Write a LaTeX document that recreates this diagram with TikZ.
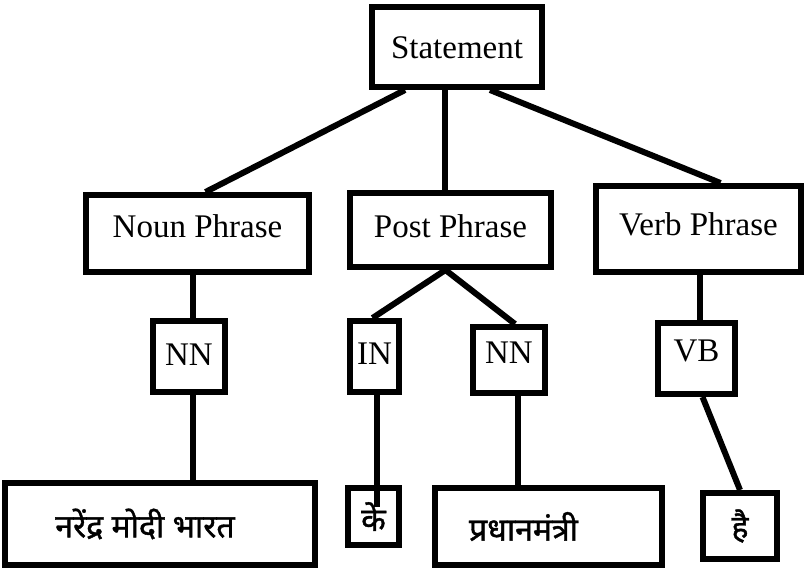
\documentclass[tikz,border=0pt]{standalone}
\usepackage{fontspec}
\setmainfont{Liberation Serif}
\newfontfamily\devfont[Script=Devanagari,FakeBold=1.2]{Noto Sans}
\begin{document}
\begin{tikzpicture}[x=1pt,y=-1pt,
  box/.style={draw,line width=6pt,inner sep=0pt,text height=22pt,font=\fontsize{33}{38}\selectfont},
  dbox/.style={draw,line width=6pt,inner sep=0pt,font=\devfont\fontsize{32}{36}\selectfont},
  link/.style={line width=6pt}]
\useasboundingbox (0,0) rectangle (812,571);
\node[box,text depth=0pt,minimum width=170pt,minimum height=80pt] (st) at (457,47) {Statement};
\node[box,text depth=15pt,minimum width=223pt,minimum height=77pt] (np) at (197.5,233.5) {Noun Phrase};
\node[box,text depth=8pt,minimum width=201pt,minimum height=74pt] (pp) at (450.5,230) {Post Phrase};
\node[box,text depth=10pt,minimum width=205pt,minimum height=86pt] (vp) at (698.5,229) {Verb Phrase};
\node[box,text depth=4pt,minimum width=72pt,minimum height=71pt] (nna) at (189,356.5) {NN};
\node[box,text depth=7pt,minimum width=49pt,minimum height=71pt] (in) at (374.5,356.5) {IN};
\node[box,text depth=16pt,minimum width=72pt,minimum height=66pt] (nnb) at (509,360) {NN};
\node[box,text depth=16pt,minimum width=77pt,minimum height=71pt] (vb) at (696.5,358.5) {VB};
\node[dbox,minimum width=310pt,minimum height=82pt] (ba) at (160,524) {नरेंद्र मोदी भारत\hspace*{30pt}};
\node[dbox,minimum width=51pt,minimum height=57pt] (bb) at (373.5,516.5) {के};
\node[dbox,minimum width=227pt,minimum height=77pt] (bc) at (548.5,526.5) {प्रधानमंत्री\hspace*{50pt}};
\node[dbox,minimum width=74pt,minimum height=66pt] (bd) at (740,526) {है};
% connectors
\draw[link] ([xshift=-52pt]st.south) -- ([xshift=8pt]np.north);
\draw[link] ([xshift=-12pt]st.south) -- ([xshift=-12pt]st.south |- pp.north);
\draw[link] ([xshift=33pt]st.south) -- ([xshift=22pt]vp.north);
\draw[link] ([xshift=4pt]nna.north) -- ([xshift=4pt]nna.north |- np.south);
\draw[link] ([xshift=4pt]nna.south) -- ([xshift=4pt]nna.south |- ba.north);
\draw[link] ([xshift=-5pt]pp.south) -- ([xshift=-2pt]in.north);
\draw[link] ([xshift=-5pt]pp.south) -- ([xshift=6pt]nnb.north);
\coordinate (bbin) at ([xshift=3pt,yshift=-22pt]bb.north);
\draw[link] (in.south -| bbin) -- (bbin);
\draw[link] ([xshift=9pt]nnb.south) -- ([xshift=9pt]nnb.south |- bc.north);
\draw[link] ([xshift=3pt]vb.north) -- ([xshift=3pt]vb.north |- vp.south);
\draw[link] ([xshift=6pt]vb.south) -- (bd.north);
\end{tikzpicture}
\end{document}
